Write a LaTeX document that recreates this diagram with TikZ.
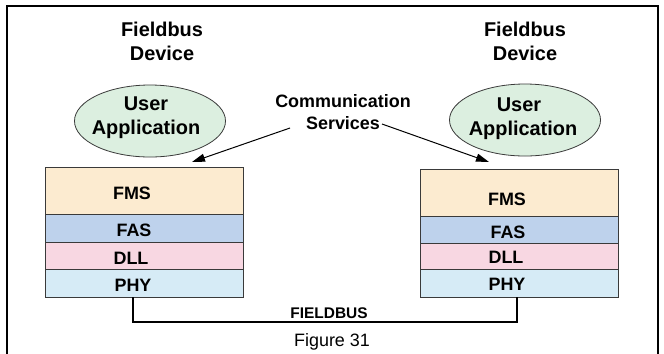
\documentclass[tikz,border=0pt]{standalone}
\usepackage{fontspec}
\setmainfont{Liberation Sans}
\usetikzlibrary{shapes.geometric,arrows.meta}
\definecolor{fmsc}{HTML}{FCEBD0}
\definecolor{fasc}{HTML}{BED2EC}
\definecolor{dllc}{HTML}{F8D7E2}
\definecolor{phyc}{HTML}{D6EBF6}
\definecolor{ellc}{HTML}{DCEFE0}
\definecolor{edgec}{HTML}{3A3A3A}
\tikzset{
  layer/.style={draw=edgec, line width=0.9bp, minimum width=198bp, inner sep=0pt, anchor=north west},
  lbl/.style={font=\bfseries\fontsize{18}{20}\selectfont, inner sep=0pt},
  big/.style={font=\bfseries\fontsize{20}{22}\selectfont, inner sep=0pt},
  ua/.style={ellipse, draw=edgec, line width=0.8bp, fill=ellc, minimum width=151bp, minimum height=72bp, inner sep=0pt},
  arr/.style={line width=1bp, -{Triangle[length=13bp,width=8bp]}},
  bus/.style={line width=2.6bp}
}
\begin{document}
\begin{tikzpicture}[x=1bp,y=-1bp]
\useasboundingbox (0,0) rectangle (664,353);
% frame
\draw[line width=2bp] (7,355) -- (7,6) -- (658,6) -- (658,355);
% titles
\node[big] (t1a) at (162,29) {Fieldbus};
\node[big] (t1b) at (162,53) {Device};
\node[big] (t2a) at (525,29) {Fieldbus};
\node[big] (t2b) at (525,53) {Device};
% ellipses
\node[ua] (e1) at (150,121) {};
\node[big] at (146,104) {User};
\node[big] at (146,129) {Application};
\node[ua] (e2) at (525,120) {};
\node[big] at (519,105) {User};
\node[big] at (523,130) {Application};
% comm services
\node[lbl] (cs1) at (343,101) {Communication};
\node[lbl] (cs2) at (343,123) {Services};
% left stack
\node[layer, fill=fmsc, minimum height=47bp] (fms1) at (45,167) {};
\node[layer, fill=fasc, minimum height=28bp] (fas1) at (45,214) {};
\node[layer, fill=dllc, minimum height=27bp] (dll1) at (45,242) {};
\node[layer, fill=phyc, minimum height=28bp] (phy1) at (45,269) {};
\node[lbl] at (132,193) {FMS};
\node[lbl] at (134,230) {FAS};
\node[lbl] at (131,258) {DLL};
\node[lbl] at (133,285) {PHY};
% right stack
\node[layer, fill=fmsc, minimum height=47bp] (fms2) at (420,169) {};
\node[layer, fill=fasc, minimum height=27bp] (fas2) at (420,216) {};
\node[layer, fill=dllc, minimum height=26bp] (dll2) at (420,243) {};
\node[layer, fill=phyc, minimum height=28bp] (phy2) at (420,269) {};
\node[lbl] at (507,199) {FMS};
\node[lbl] at (508,232) {FAS};
\node[lbl] at (506,257) {DLL};
\node[lbl] at (507,284) {PHY};
% arrows
\coordinate (a1s) at (290,128);
\coordinate (a1e) at (192,162);
\coordinate (a2s) at (382,124);
\coordinate (a2e) at (489,162);
\draw[arr] (a1s) -- (a1e);
\draw[arr] (a2s) -- (a2e);
% bus
\draw[bus] (133,297) -- (133,322) -- (517,322) -- (517,297);
\node[font=\bfseries\fontsize{15.5}{17}\selectfont, inner sep=0pt] (fb) at (329,313) {FIELDBUS};
\node[font=\fontsize{18}{20}\selectfont, inner sep=0pt] (fig) at (332,342) {Figure 31};
\end{tikzpicture}
\end{document}
